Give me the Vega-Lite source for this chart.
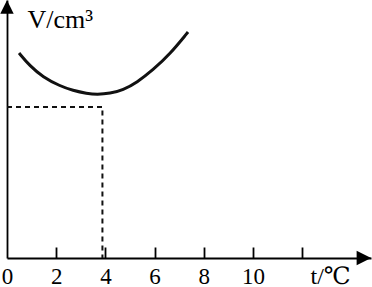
{
  "$schema": "https://vega.github.io/schema/vega-lite/v6.json",
  "autosize": "none",
  "width": 364,
  "height": 258,
  "padding": {"left": 7, "top": 0, "right": 1, "bottom": 29},
  "background": "white",
  "config": {"view": {"stroke": null}, "font": "'Liberation Serif', 'DejaVu Serif', serif"},
  "datasets": {
    "curve": [
      {"t": 0.49, "V": 205}, {"t": 0.93, "V": 192}, {"t": 1.46, "V": 181},
      {"t": 2.15, "V": 172}, {"t": 2.68, "V": 167.5}, {"t": 3.25, "V": 164.5},
      {"t": 3.66, "V": 163.5}, {"t": 4.19, "V": 164.5}, {"t": 4.72, "V": 168},
      {"t": 5.28, "V": 175.5}, {"t": 5.93, "V": 188}, {"t": 6.63, "V": 204},
      {"t": 7.36, "V": 226}
    ],
    "guide": [
      {"t": 0, "V": 151, "o": 0}, {"t": 3.88, "V": 151, "o": 1}, {"t": 3.88, "V": 0, "o": 2}
    ],
    "arrows": [
      {"t": 0, "V": 251, "dir": "up"},
      {"t": 14.51, "V": 0, "dir": "right"}
    ]
  },
  "encoding": {
    "x": {
      "field": "t", "type": "quantitative",
      "scale": {"domain": [0, 14.8], "nice": false, "zero": false},
      "axis": {
        "values": [0, 2, 4, 6, 8, 10, 12],
        "labelExpr": "datum.value == 12 ? '' : datum.label",
        "grid": false,
        "domainColor": "black", "domainWidth": 1.8,
        "tickColor": "black", "tickWidth": 1.8, "tickSize": -11,
        "tickOpacity": {"condition": {"test": "datum.value == 0", "value": 0}, "value": 1},
        "labelFont": "'Liberation Serif', 'DejaVu Serif', serif", "labelFontSize": 23, "labelColor": "black",
        "labelBaseline": "alphabetic",
        "labelPadding": 36, "labelFlush": false, "labelOverlap": false, "labelBound": false,
        "title": "t/℃", "titleFont": "'Liberation Serif', 'DejaVu Serif', serif", "titleFontSize": 24,
        "titleFontWeight": "normal", "titleColor": "black",
        "titleAlign": "left", "titleBaseline": "alphabetic", "titleAnchor": null,
        "titleX": 303, "titleY": 25
      }
    },
    "y": {
      "field": "V", "type": "quantitative",
      "scale": {"domain": [0, 258], "nice": false, "zero": false},
      "axis": {
        "grid": false, "ticks": false, "labels": false,
        "domainColor": "black", "domainWidth": 1.8,
        "title": "V/cm³", "titleFont": "'Liberation Serif', 'DejaVu Serif', serif", "titleFontSize": 26,
        "titleFontWeight": "normal", "titleColor": "black", "titleAngle": 0,
        "titleAlign": "left", "titleBaseline": "alphabetic",
        "titleX": 20, "titleY": 27
      }
    }
  },
  "layer": [
    {
      "data": {"name": "curve"},
      "mark": {"type": "line", "color": "#111", "strokeWidth": 3, "interpolate": "basis"}
    },
    {
      "data": {"name": "guide"},
      "mark": {"type": "line", "color": "#111", "strokeWidth": 2, "strokeDash": [5, 4]},
      "encoding": {"order": {"field": "o", "type": "quantitative"}}
    },
    {
      "data": {"name": "arrows"},
      "transform": [{"filter": "datum.dir == 'up'"}],
      "mark": {"type": "point", "shape": "M0,-1L1,1L-1,1Z", "filled": true, "color": "black", "size": 180, "opacity": 1, "strokeWidth": 0}
    },
    {
      "data": {"name": "arrows"},
      "transform": [{"filter": "datum.dir == 'right'"}],
      "mark": {"type": "point", "shape": "M1,0L-1,-1L-1,1Z", "filled": true, "color": "black", "size": 210, "opacity": 1, "strokeWidth": 0}
    }
  ]
}
